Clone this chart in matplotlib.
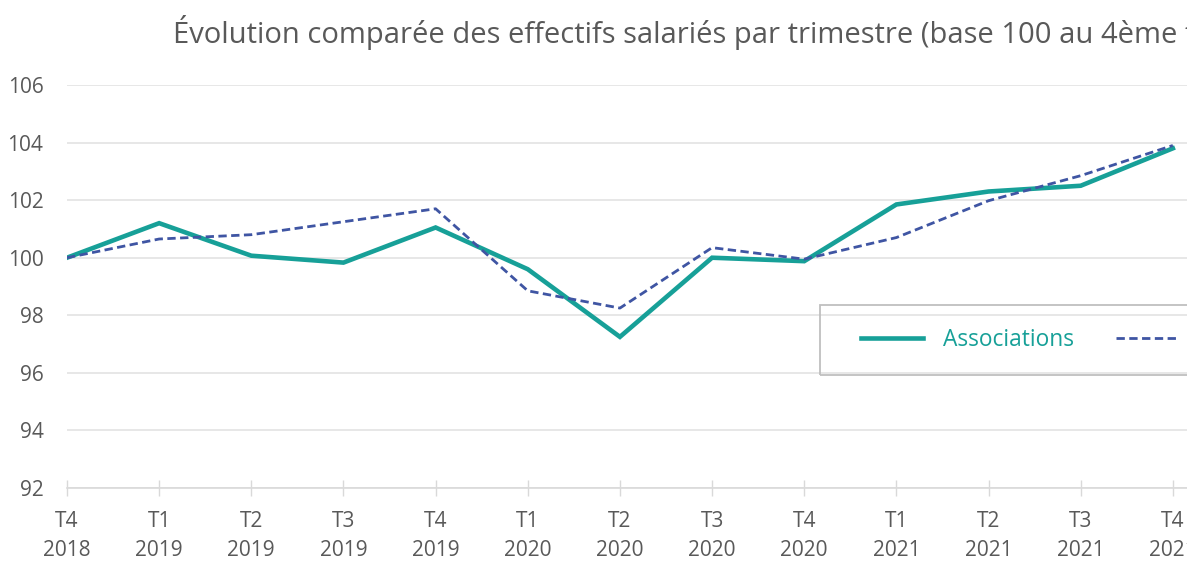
import matplotlib.pyplot as plt
from matplotlib.patches import Rectangle
import numpy as np

# quarters (T = trimestre)
quarters = ['T4\n2018', 'T1\n2019', 'T2\n2019', 'T3\n2019', 'T4\n2019',
            'T1\n2020', 'T2\n2020', 'T3\n2020', 'T4\n2020',
            'T1\n2021', 'T2\n2021', 'T3\n2021', 'T4\n2021']

# base 100 au T4 2018
associations = [100.0, 101.2, 100.07, 99.83, 101.05, 99.6, 97.25,
                100.0, 99.88, 101.85, 102.3, 102.5, 103.8]
ensemble = [100.0, 100.65, 100.8, 101.25, 101.7, 98.85, 98.25,
            100.35, 99.95, 100.7, 101.98, 102.85, 103.9]

teal = '#17a098'
blue = '#3f55a3'
grey = '#595959'
W, H = 1187, 561

plt.rcParams['font.family'] = ['Open Sans', 'DejaVu Sans']

fig = plt.figure(figsize=(W / 100, H / 100), dpi=100)
# axes runs past the right edge, like the cropped original
ax = fig.add_axes([67 / W, 1 - 488 / H, 1198 / W, (488 - 85) / H])

x = np.arange(len(quarters))
ax.plot(x, associations, color=teal, lw=3.3, label='Associations',
        solid_joinstyle='miter', zorder=3)
ax.plot(x, ensemble, color=blue, lw=2, ls=(0, (3, 1.6)),
        label='Ensemble du secteur privé', zorder=4)

ax.set_xlim(0, 13)
ax.set_ylim(92, 106)
ax.set_yticks(np.arange(92, 107, 2))
ax.set_xticks(x)
ax.set_xticklabels(quarters, linespacing=1.5)

ax.grid(axis='y', color='#e3e3e3', lw=1.2)
ax.set_axisbelow(True)
for s in ['left', 'right', 'top']:
    ax.spines[s].set_visible(False)
ax.spines['bottom'].set_color('#d9d9d9')
ax.spines['bottom'].set_linewidth(1.2)

ax.tick_params(axis='y', length=0, pad=17, labelsize=15, labelcolor=grey)
ax.tick_params(axis='x', direction='inout', length=11, width=1,
               color='#d9d9d9', pad=11, labelsize=15, labelcolor=grey)

fig.text(173 / W, 1 - 43 / H,
         'Évolution comparée des effectifs salariés par trimestre '
         '(base 100 au 4ème trimestre 2018)',
         fontsize=21, color=grey, ha='left', va='baseline')

# legend box drawn by hand, cut by the right edge as in the original
fig.patches.append(Rectangle((820 / W, 1 - 375 / H), 400 / W, 70 / H,
                             transform=fig.transFigure, fill=False,
                             edgecolor='#bfbfbf', lw=1.3))
leg = fig.legend(loc='center left', bbox_to_anchor=(852 / W, 1 - 340 / H),
                 ncol=2, fontsize=16.4, frameon=False, borderaxespad=0,
                 handlelength=2.7, handletextpad=0.9, columnspacing=1.85,
                 labelcolor='linecolor')

fig.savefig('out.png', dpi=100)
